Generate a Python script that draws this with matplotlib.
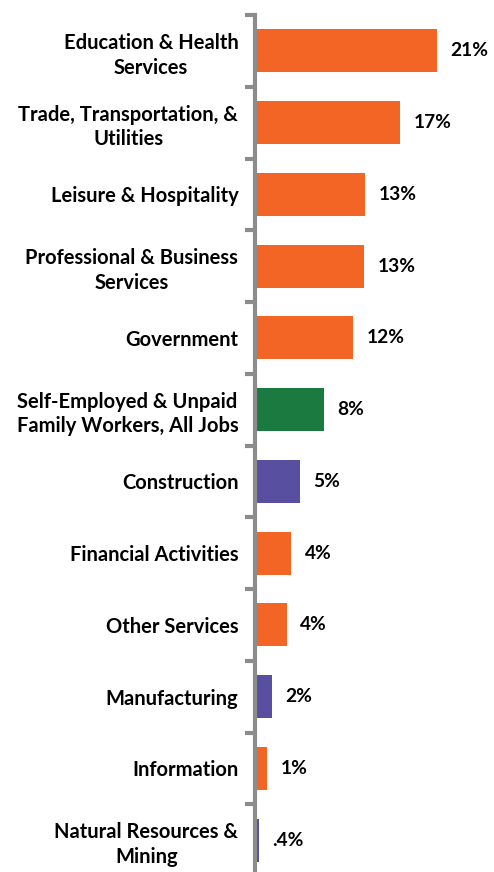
import matplotlib
matplotlib.use("Agg")
import matplotlib.pyplot as plt

categories = [
    "Education & Health\nServices",
    "Trade, Transportation, &\nUtilities",
    "Leisure & Hospitality",
    "Professional & Business\nServices",
    "Government",
    "Self-Employed & Unpaid\nFamily Workers, All Jobs",
    "Construction",
    "Financial Activities",
    "Other Services",
    "Manufacturing",
    "Information",
    "Natural Resources &\nMining",
]
values = [21.0, 16.8, 12.7, 12.6, 11.3, 8.0, 5.2, 4.2, 3.7, 2.0, 1.4, 0.45]
value_labels = ["21%", "17%", "13%", "13%", "12%", "8%", "5%", "4%", "4%", "2%", "1%", ".4%"]
groups = ["o", "o", "o", "o", "o", "g", "p", "o", "o", "p", "o", "p"]

colors_map = {"o": "#F26524", "g": "#1A7A40", "p": "#584FA0"}
colors = [colors_map[g] for g in groups]

plt.rcParams['font.family'] = ['Lato', 'DejaVu Sans']

W, H = 494, 872
fig = plt.figure(figsize=(W / 100, H / 100), dpi=100)
left_px = 255
top_px = 15
bottom_px = 876
ax = fig.add_axes([left_px / W, 1 - bottom_px / H, (W - left_px) / W, (bottom_px - top_px) / H])

y = list(range(len(categories)))
ax.barh(y, values, height=0.6, color=colors, zorder=2)
ax.set_ylim(len(categories) - 0.5, -0.5)
ax.set_xlim(0, (W - left_px) / 8.66)

for yi, v, lab in zip(y, values, value_labels):
    ax.text(v + 1.55, yi, lab, va="center", ha="left", fontsize=13.8, fontweight="bold", color="black")

ax.set_yticks([i + 0.5 for i in range(-1, len(categories))], minor=False)
ax.set_yticklabels([])
ax.set_yticks(y, minor=True)
ax.set_yticklabels(categories, minor=True, fontsize=14.5, fontweight="bold", linespacing=1.3)
ax.tick_params(axis="y", which="major", length=7, width=3, color="#8C8C8C", direction="out")
ax.tick_params(axis="y", which="minor", length=0, pad=12)
for lab in ax.get_yticklabels(minor=True):
    lab.set_multialignment("center")

ax.set_xticks([])
for s in ["top", "right", "bottom"]:
    ax.spines[s].set_visible(False)
ax.spines["left"].set_color("#8C8C8C")
ax.spines["left"].set_linewidth(3)

fig.savefig("out.png", dpi=100)
